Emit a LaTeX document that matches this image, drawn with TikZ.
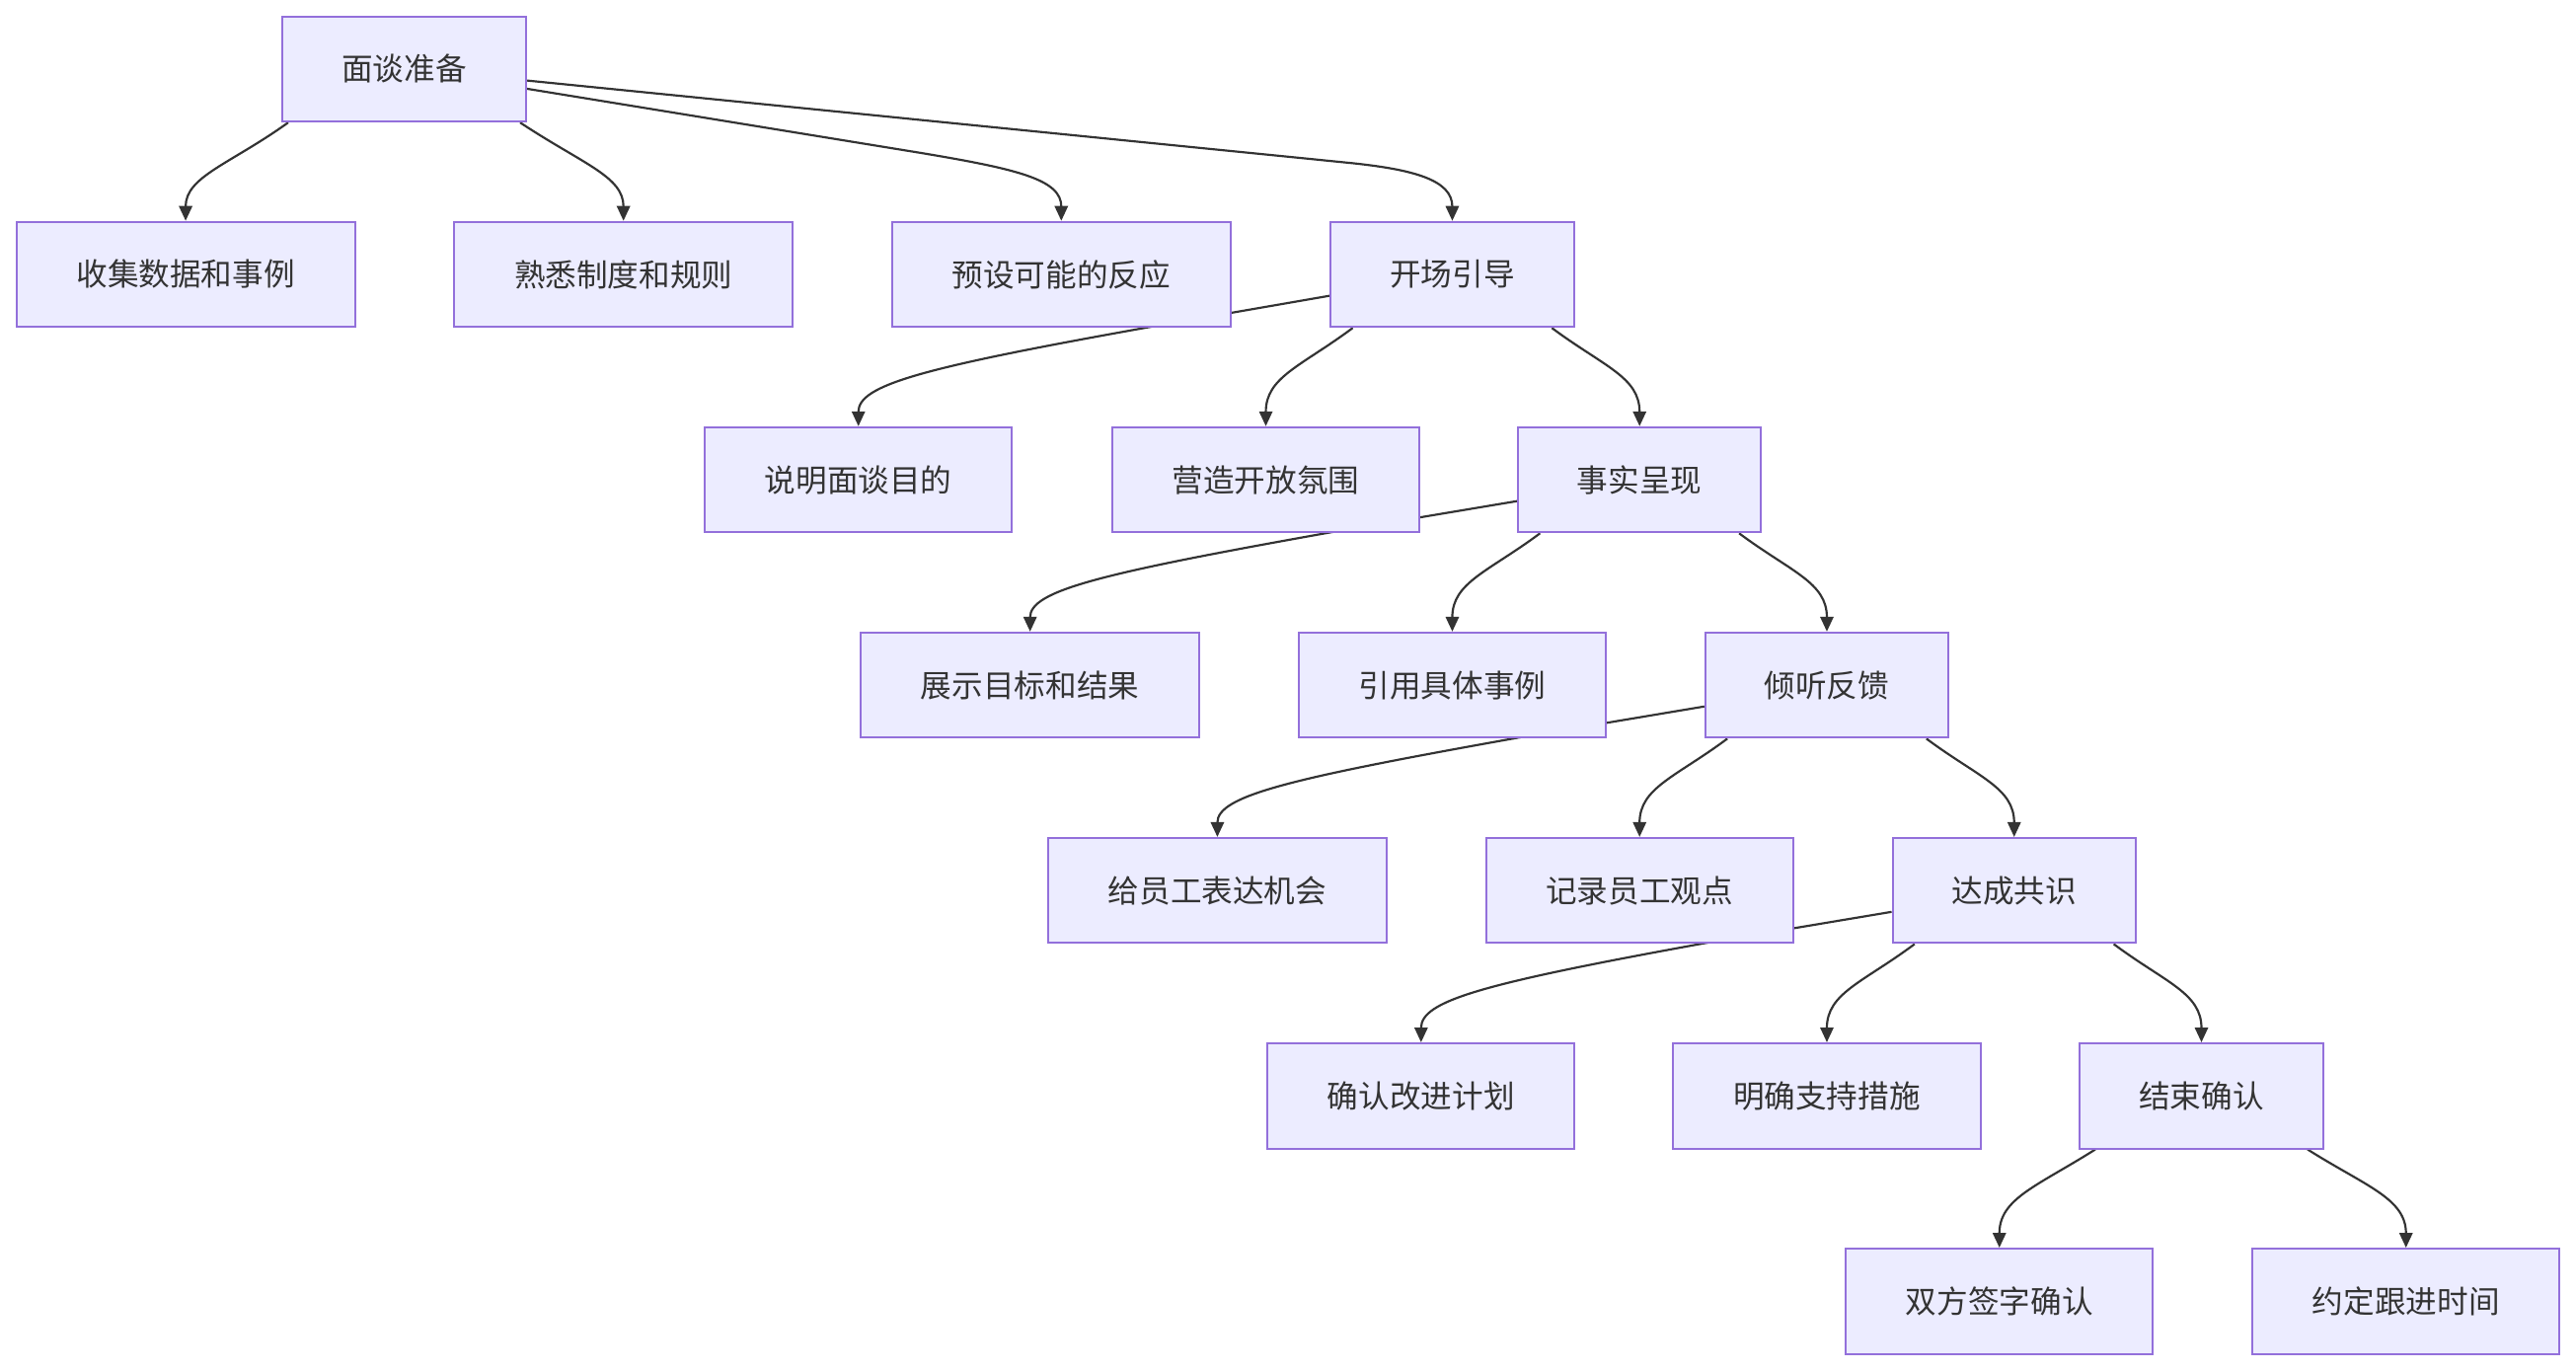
\documentclass[tikz,border=0pt]{standalone}
\usepackage{fontspec}
\newfontfamily\cjk{Noto Sans CJK SC}
\usetikzlibrary{arrows.meta,calc}
\definecolor{boxfill}{HTML}{ECECFF}
\definecolor{boxline}{HTML}{9370DB}
\definecolor{edgecol}{HTML}{333333}
\pgfdeclarelayer{paper}
\pgfdeclarelayer{edges}
\pgfsetlayers{paper,edges,main}
\begin{document}
\begin{tikzpicture}[x=1pt,y=-1pt,
  box/.style={draw=boxline,fill=boxfill,line width=1.2pt,minimum height=64pt,inner sep=0pt,
    text=edgecol,font=\cjk\fontsize{19}{19}\selectfont},
  w4/.style={box,minimum width=148pt},
  w6/.style={box,minimum width=187pt},
  w7/.style={box,minimum width=206pt},
  edge/.style={draw=edgecol,line width=1.3pt,-{Triangle[length=9pt,width=8pt]}}]
\useasboundingbox (0,0) rectangle (1568,834);
\begin{pgfonlayer}{paper}
\fill[white] (0,0) rectangle (1568,834);
\end{pgfonlayer}
% nodes
\node[w4] (n0) at (246,42) {面谈准备};
\node[w7] (n1) at (113,167) {收集数据和事例};
\node[w7] (n2) at (379.5,167) {熟悉制度和规则};
\node[w7] (n3) at (646,167) {预设可能的反应};
\node[w4] (n4) at (884,167) {开场引导};
\node[w6] (n5) at (522.5,292) {说明面谈目的};
\node[w6] (n6) at (770.5,292) {营造开放氛围};
\node[w4] (n7) at (998,292) {事实呈现};
\node[w7] (n8) at (627,417) {展示目标和结果};
\node[w6] (n9) at (884,417) {引用具体事例};
\node[w4] (n10) at (1112,417) {倾听反馈};
\node[w7] (n11) at (741,542) {给员工表达机会};
\node[w6] (n12) at (998,542) {记录员工观点};
\node[w4] (n13) at (1226,542) {达成共识};
\node[w6] (n14) at (865,667) {确认改进计划};
\node[w6] (n15) at (1112,667) {明确支持措施};
\node[w4] (n16) at (1340,667) {结束确认};
\node[w6] (n17) at (1217,792) {双方签字确认};
\node[w6] (n18) at (1464.5,792) {约定跟进时间};
\begin{pgfonlayer}{edges}
% edges from n0
\draw[edge] ($(n0.south west)+(4,0)$) .. controls (140,100) and ($(n1.north)+(0,-27)$) .. (n1.north);
\draw[edge] ($(n0.south east)+(-4,0)$) .. controls (355,100) and ($(n2.north)+(0,-27)$) .. (n2.north);
\draw[edge] ($(n0.east)+(0,12)$) -- (560,93) .. controls (620,103) and ($(n3.north)+(0,-25)$) .. (n3.north);
\draw[edge] ($(n0.east)+(0,7)$) -- (820,99) .. controls (860,103) and ($(n4.north)+(0,-25)$) .. (n4.north);
% edges from n4
\draw[edge] ($(n4.west)+(0,13)$) -- (700,199) .. controls (560,224) and ($(n5.north)+(0,-25)$) .. (n5.north);
\draw[edge] ($(n4.south west)+(14,0)$) .. controls (792,223) and ($(n6.north)+(0,-30)$) .. (n6.north);
\draw[edge] ($(n4.south east)+(-14,0)$) .. controls (976,223) and ($(n7.north)+(0,-30)$) .. (n7.north);
% edges from n7
\draw[edge] ($(n7.west)+(0,13)$) -- (810,324) .. controls (670,349) and ($(n8.north)+(0,-25)$) .. (n8.north);
\draw[edge] ($(n7.south west)+(14,0)$) .. controls (906,348) and ($(n9.north)+(0,-30)$) .. (n9.north);
\draw[edge] ($(n7.south east)+(-14,0)$) .. controls (1090,348) and ($(n10.north)+(0,-30)$) .. (n10.north);
% edges from n10
\draw[edge] ($(n10.west)+(0,13)$) -- (924,449) .. controls (784,474) and ($(n11.north)+(0,-25)$) .. (n11.north);
\draw[edge] ($(n10.south west)+(14,0)$) .. controls (1020,473) and ($(n12.north)+(0,-30)$) .. (n12.north);
\draw[edge] ($(n10.south east)+(-14,0)$) .. controls (1204,473) and ($(n13.north)+(0,-30)$) .. (n13.north);
% edges from n13
\draw[edge] ($(n13.west)+(0,13)$) -- (1038,574) .. controls (900,599) and ($(n14.north)+(0,-25)$) .. (n14.north);
\draw[edge] ($(n13.south west)+(14,0)$) .. controls (1134,598) and ($(n15.north)+(0,-30)$) .. (n15.north);
\draw[edge] ($(n13.south east)+(-14,0)$) .. controls (1318,598) and ($(n16.north)+(0,-30)$) .. (n16.north);
% edges from n16
\draw[edge] ($(n16.south west)+(10,0)$) .. controls (1240,722) and ($(n17.north)+(0,-30)$) .. (n17.north);
\draw[edge] ($(n16.south east)+(-10,0)$) .. controls (1440,722) and ($(n18.north)+(0,-30)$) .. (n18.north);
\end{pgfonlayer}
\end{tikzpicture}
\end{document}
